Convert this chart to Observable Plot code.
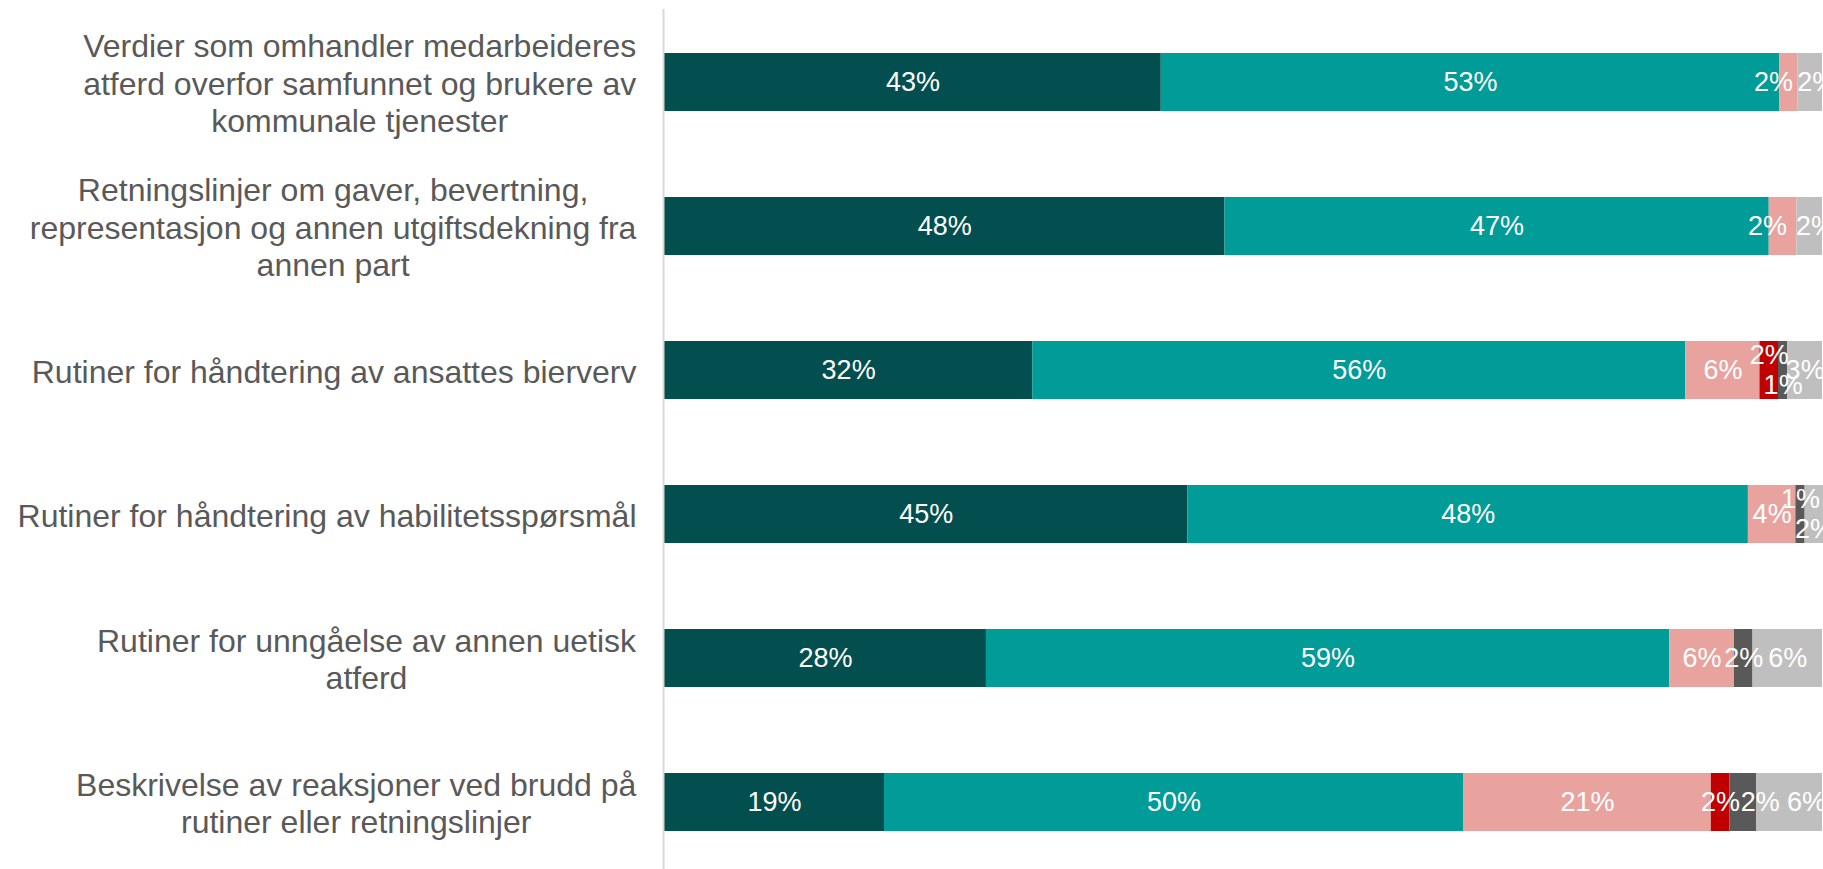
<!DOCTYPE html>
<html>
<head>
<meta charset="utf-8">
<script src="https://cdn.jsdelivr.net/npm/d3@7"></script>
<script src="https://cdn.jsdelivr.net/npm/@observablehq/plot@0.6"></script>
<style>
  html, body { margin: 0; padding: 0; background: #ffffff; overflow: hidden; }
  #chart svg { display: block; }
</style>
</head>
<body>
<div id="chart"></div>
<script>
// ---------- data ----------
const categories = [
  "Verdier som omhandler medarbeideres\natferd overfor samfunnet og brukere av\nkommunale tjenester",
  "Retningslinjer om gaver, bevertning,\nrepresentasjon og annen utgiftsdekning fra\nannen part",
  "Rutiner for håndtering av ansattes bierverv",
  "Rutiner for håndtering av habilitetsspørsmål",
  "Rutiner for unngåelse av annen uetisk\natferd",
  "Beskrivelse av reaksjoner ved brudd på\nrutiner eller retningslinjer"
];
const seriesNames = ["Serie 1", "Serie 2", "Serie 3", "Serie 4", "Serie 5", "Serie 6"];
const serie1 = [42.9, 48.4, 31.8, 45.2, 27.8, 19.0];
const serie2 = [53.4, 47.0, 56.4, 48.4, 59.0, 50.0];
const serie3 = [1.6, 2.4, 6.4, 4.1, 5.6, 21.4];
const serie4 = [0, 0, 1.6, 0, 0, 1.6];
const serie5 = [0, 0, 0.8, 0.8, 1.6, 2.3];
const serie6 = [2.1, 2.2, 3.0, 1.6, 6.0, 5.7];
const seriesValues = [serie1, serie2, serie3, serie4, serie5, serie6];

// ---------- styles ----------
const seriesColors = ["#034F4F", "#019B98", "#E9A39F", "#C00000", "#595959", "#BFBFBF"];
// label placement tweaks (key = row index - series index)
const raisedLabels = new Set(["2-3", "3-4"]);
const loweredLabels = new Set(["2-4", "3-5"]);
const endAtMidLabels = new Set(["0-2", "1-2"]);
const startAtLeftLabels = new Set(["0-5", "1-5"]);
const shiftedRightLabels = new Set(["5-4", "5-5"]);
const special = [raisedLabels, loweredLabels, endAtMidLabels, startAtLeftLabels, shiftedRightLabels];

// ---------- table ----------
const table = [];
categories.forEach((c, i) => {
  seriesNames.forEach((s, j) => {
    const v = seriesValues[j][i];
    if (v > 0) table.push({category: c, series: s, value: v, key: i + "-" + j});
  });
});
const pct = d => Math.round(d.value) + "%";
const only = set => d => set.has(d.key) ? pct(d) : null;
const normal = d => special.some(s => s.has(d.key)) ? null : pct(d);
const labelOpts = (text, extra = {}) =>
  ({x: "value", y: "category", z: "series", text, fill: "white", fontSize: 27, ...extra});

const chart = Plot.plot({
  width: 1823,
  height: 869,
  marginLeft: 664,
  marginRight: 1,
  marginTop: 23,
  marginBottom: 9,
  style: {fontFamily: "'Liberation Sans', Arial, sans-serif", background: "#ffffff"},
  x: {domain: [0, 100], axis: null},
  y: {domain: categories, axis: null, paddingInner: 0.598, paddingOuter: 0.2},
  color: {domain: seriesNames, range: seriesColors},
  marks: [
    Plot.barX(table, Plot.stackX({x: "value", y: "category", fill: "series"})),
    Plot.ruleX([0], {stroke: "#D9D9D9", strokeWidth: 2, dx: -1, insetTop: -14, insetBottom: -9}),
    Plot.text(table, Plot.stackX(labelOpts(normal))),
    Plot.text(table, Plot.stackX(labelOpts(only(raisedLabels), {dy: -15}))),
    Plot.text(table, Plot.stackX(labelOpts(only(loweredLabels), {dy: 15}))),
    Plot.text(table, Plot.stackX(labelOpts(only(endAtMidLabels), {textAnchor: "end", dx: 4}))),
    Plot.text(table, Plot.stackX1(labelOpts(only(startAtLeftLabels), {textAnchor: "start", dx: -1}))),
    Plot.text(table, Plot.stackX(labelOpts(only(shiftedRightLabels), {dx: 17}))),
    Plot.text(categories, {
      y: d => d,
      text: d => d,
      frameAnchor: "left",
      dx: -28,
      textAnchor: "end",
      lineAnchor: "middle",
      lineHeight: 1.18,
      fontSize: 32,
      fill: "#595959",
      ariaLabel: "category-labels"
    })
  ]
});

document.getElementById("chart").appendChild(chart);

// centre each line within its right-aligned label block
let group = chart.querySelector('g[aria-label="category-labels"]');
if (!group) {
  const gs = chart.querySelectorAll('g[aria-label="text"]');
  group = gs[gs.length - 1];
}
if (group) {
  group.querySelectorAll("text").forEach(t => {
    const tspans = t.querySelectorAll("tspan");
    if (tspans.length) {
      const w = t.getBBox().width;
      t.setAttribute("text-anchor", "middle");
      tspans.forEach(ts => ts.setAttribute("x", -w / 2));
    }
  });
}
</script>
</body>
</html>
